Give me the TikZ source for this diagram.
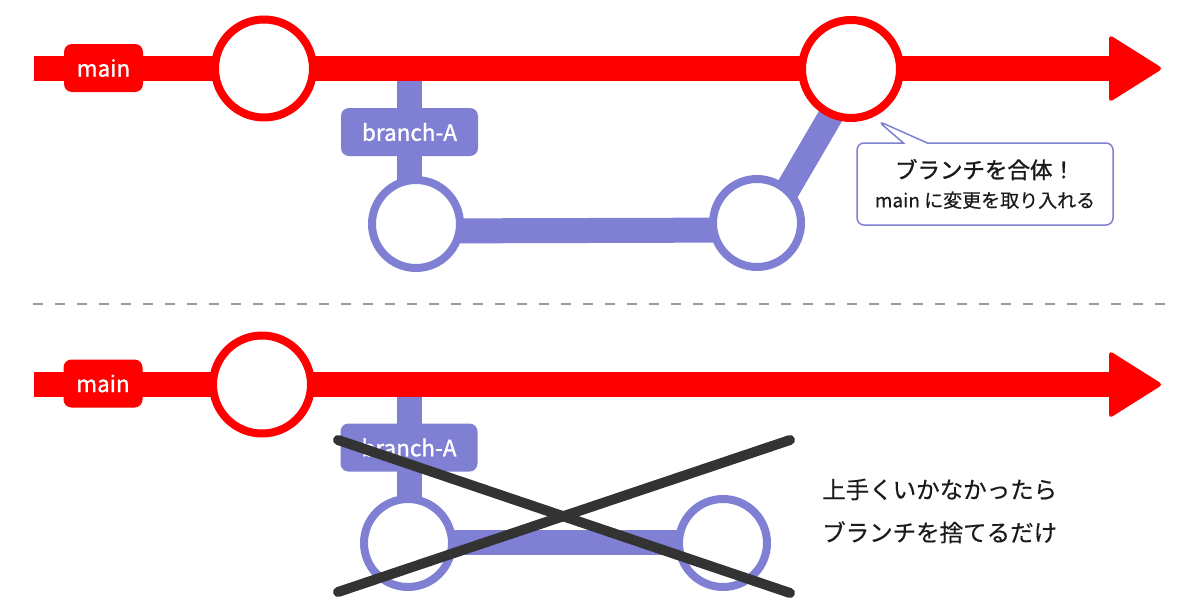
\documentclass[tikz,border=0pt]{standalone}
\usepackage{fontspec}
\setmainfont{Noto Sans CJK JP}[FakeBold=0.4]
\newfontfamily\tagfont{Noto Sans CJK JP}[FakeBold=1.3]
\usetikzlibrary{shapes.callouts,backgrounds}

\definecolor{mainred}{RGB}{255,0,0}
\definecolor{branchblue}{RGB}{127,127,212}
\definecolor{crossgray}{RGB}{51,51,51}
\definecolor{sepgray}{RGB}{153,153,153}
\definecolor{textdark}{RGB}{26,26,26}

\tikzset{
  mainline/.style={draw=mainred,line width=25pt},
  mainhead/.style={fill=mainred,rounded corners=4pt},
  maintag/.style={fill=mainred,text=white,rounded corners=8pt,minimum width=79pt,minimum height=48pt,inner sep=0pt,font=\fontsize{22.5}{22.5}\tagfont},
  maincommit/.style={circle,draw=mainred,fill=white,line width=8pt,minimum size=98pt,inner sep=0pt},
  branchline/.style={draw=branchblue,line width=25pt},
  branchtag/.style={fill=branchblue,text=white,rounded corners=8pt,minimum width=137pt,minimum height=48pt,inner sep=0pt,font=\fontsize{22.5}{22.5}\tagfont},
  branchcommit/.style={circle,draw=branchblue,fill=white,line width=8pt,minimum size=88pt,inner sep=0pt},
  mergenote/.style={rectangle callout,draw=branchblue,fill=white,line width=1.5pt,rounded corners=7pt,minimum width=256pt,minimum height=82pt,align=center,inner sep=0pt,text=textdark,callout pointer width=24pt,font=\fontsize{19}{29}\selectfont},
  crossline/.style={draw=crossgray,line width=10pt,line cap=round},
  separator/.style={draw=sepgray,line width=2pt,dash pattern=on 10pt off 12pt}
}

\begin{document}
\begin{tikzpicture}[x=1pt,y=-1pt]
\useasboundingbox (0,0) rectangle (1200,600);

\coordinate (start1) at (34,68.5);
\coordinate (head1) at (1109,68.5);
\node[maintag] (main1) at (103.5,68) {main};
\node[maincommit] (c1) at (264,68.5) {};
\node[maincommit] (c2) at (851,69) {};
\node[branchtag] (tag1) at (409.5,132) {branch-A};
\node[branchcommit] (b1) at (416,224) {};
\node[branchcommit] (b2) at (757,223) {};
\node[mergenote,callout absolute pointer={(878,121)}] (note) at (985,184)
  {{\fontsize{22.5}{29}\tagfont ブランチを合体！}\\main に変更を取り入れる};

\begin{scope}[on background layer]
\draw[branchline] (tag1.center |- start1) -- (tag1.center |- b1.center);
\draw[branchline] ([yshift=-7pt]b1.center) -- ([yshift=-7pt]b2.center);
\draw[branchline] ([xshift=11pt]b2.center) -- ([xshift=7pt]c2.center);
\draw[mainline] (start1) -- (head1);
\fill[mainhead] (head1) ++(0,-34) -- ++(54,34) -- ++(-54,34) -- cycle;
\end{scope}

\coordinate (sepl) at (33,304);
\coordinate (sepr) at (1167,304);
\draw[separator] (sepl) -- (sepr);

\coordinate (start2) at (34,384.5);
\coordinate (head2) at (1109,384.5);
\node[maintag] (main2) at (103,383.5) {main};
\node[maincommit] (c3) at (262,384.5) {};
\node[branchtag] (tag2) at (409,447.5) {branch-A};
\node[branchcommit] (b3) at (408,543) {};
\node[branchcommit] (b4) at (723,543) {};
\node[anchor=west,align=left,inner sep=0pt,text=textdark,font=\fontsize{23.5}{43}\selectfont] (giveup) at (822,511) {上手くいかなかったら\\ブランチを捨てるだけ};

\begin{scope}[on background layer]
\draw[branchline] (tag2.center |- start2) -- (tag2.center |- b3.center);
\draw[branchline] ([yshift=1pt]b3.center) -- ([yshift=1pt]b4.center);
\draw[mainline] (start2) -- (head2);
\fill[mainhead] (head2) ++(0,-34) -- ++(54,34) -- ++(-54,34) -- cycle;
\end{scope}

\coordinate (x1) at (338,440);
\coordinate (x2) at (790,593);
\coordinate (x3) at (338,592);
\coordinate (x4) at (790,440);
\draw[crossline] (x1) -- (x2);
\draw[crossline] (x3) -- (x4);

\end{tikzpicture}
\end{document}
